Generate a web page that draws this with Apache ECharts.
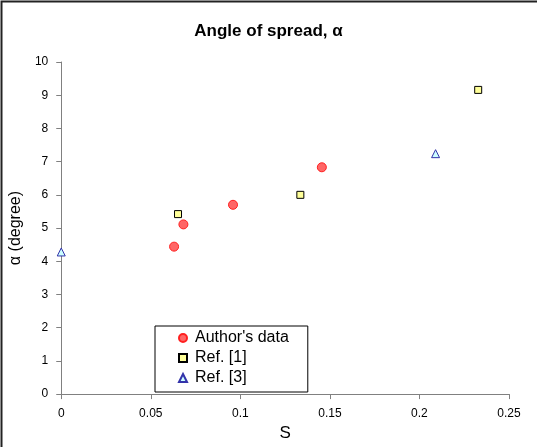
<!DOCTYPE html>
<html><head><meta charset="utf-8">
<script src="https://cdn.jsdelivr.net/npm/echarts@6/dist/echarts.min.js"></script>
<style>html,body{margin:0;padding:0;background:#fff}#c{width:537px;height:447px}</style>
</head><body><div id="c"></div>
<script>
const authorS = [0.0630, 0.0682, 0.0959, 0.1455];
const authorA = [4.44, 5.11, 5.70, 6.83];
const ref1S = [0.0652, 0.1335, 0.2328];
const ref1A = [5.42, 6.00, 9.16];
const ref3S = [0.0, 0.209];
const ref3A = [4.28, 7.24];
const xTicks = [0, 0.05, 0.1, 0.15, 0.2, 0.25];
const yTicks = [0,1,2,3,4,5,6,7,8,9,10];

const zip = (a,b) => a.map((v,i)=>[v,b[i]]);
const font = 'Liberation Sans, Arial, sans-serif';
const chart = echarts.init(document.getElementById('c'));
chart.setOption({
  animation:false,
  backgroundColor:'#fff',
  title:{text:'Angle of spread, α', left:'center', top:18,
    textStyle:{fontFamily:font,fontSize:17,fontWeight:'bold',color:'#000'}},
  grid:{left:59,right:28,top:62,bottom:47},
  xAxis:{type:'value',min:xTicks[0],max:xTicks[xTicks.length-1],interval:0.05,
    name:'S',nameLocation:'middle',nameGap:24,
    nameTextStyle:{fontFamily:font,fontSize:17,color:'#000'},
    axisLine:{show:true,lineStyle:{color:'#808080',width:1}},
    axisTick:{show:true,inside:false,length:5,lineStyle:{color:'#808080'}},
    axisLabel:{fontFamily:font,fontSize:12,color:'#000',margin:14,
      formatter:v=>String(+v.toFixed(2))},
    splitLine:{show:false}},
  yAxis:{type:'value',min:yTicks[0],max:yTicks[yTicks.length-1],interval:1,
    name:'α (degree)',nameLocation:'middle',nameGap:28,nameRotate:90,
    nameTextStyle:{fontFamily:font,fontSize:16,color:'#000'},
    axisLine:{show:true,lineStyle:{color:'#808080',width:1}},
    axisTick:{show:true,inside:false,length:5,lineStyle:{color:'#808080'}},
    axisLabel:{fontFamily:font,fontSize:12,color:'#000',margin:13},
    splitLine:{show:false}},
  legend:{orient:'vertical',left:155,top:326,
    backgroundColor:'#fff',borderColor:'#000',borderWidth:1,
    padding:[4,19,6,23],itemGap:4,itemWidth:8,itemHeight:8,
    textStyle:{fontFamily:font,fontSize:16,color:'#000',padding:[0,0,0,3]},
    data:["Author's data",'Ref. [1]','Ref. [3]']},
  series:[
    {name:"Author's data",type:'scatter',symbol:'circle',symbolSize:9,
      itemStyle:{color:'#FF6666',borderColor:'#FF2020',borderWidth:1,opacity:1},
      data:zip(authorS,authorA)},
    {name:'Ref. [1]',type:'scatter',symbol:'rect',symbolSize:7,
      itemStyle:{color:'#FFFF99',borderColor:'#000',borderWidth:1,opacity:1},
      data:zip(ref1S,ref1A)},
    {name:'Ref. [3]',type:'scatter',symbol:'triangle',symbolSize:8,
      itemStyle:{color:'#CCFFFF',borderColor:'#3333AA',borderWidth:1,opacity:1},
      data:zip(ref3S,ref3A)}
  ],
  graphic:[{type:'rect',shape:{x:1.5,y:1.5,width:700,height:700},
    style:{fill:'none',stroke:'#222',lineWidth:2},silent:true}]
});
</script></body></html>
